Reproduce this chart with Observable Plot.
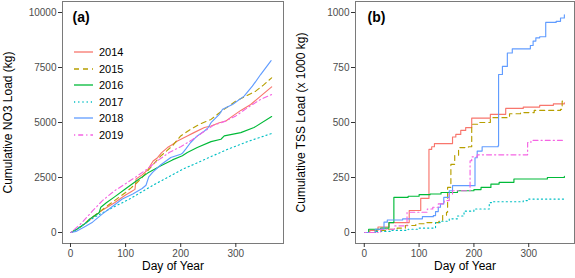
<!DOCTYPE html>
<html><head><meta charset="utf-8">
<script src="https://cdn.jsdelivr.net/npm/d3@7"></script>
<script src="https://cdn.jsdelivr.net/npm/@observablehq/plot@0.6"></script>
<style>
body{margin:0;background:#fff;}
#wrap{position:relative;width:575px;height:278px;font-family:"Liberation Sans",Arial,sans-serif;overflow:hidden;}
#pa{position:absolute;left:0;top:0;}
#pb{position:absolute;left:287px;top:0;}
#legend{position:absolute;left:74px;top:44px;font-size:11px;color:#000;}
#legend .row{height:16.5px;display:flex;align-items:center;}
#legend svg{margin-right:6px;}
</style></head>
<body><div id="wrap"><div id="pa"></div><div id="pb"></div><div id="legend"></div></div>
<script>
const years = ["2014","2015","2016","2017","2018","2019"];
const colors = ["#F8766D","#B79F00","#00BA38","#00BFC4","#619CFF","#F564E3"];
const dashes = [null,"5,4",null,"1.2,3",null,"1.2,3,5,3"];
const xTicks = [0,100,200,300];
const no3Ticks = [0,2500,5000,7500,10000];
const tssTicks = [0,250,500,750,1000];

// Cumulative NO3 load (kg), [day, value]
const no3_2014 = [[1,0],[10,120],[20,300],[30,480],[40,680],[50,870],[60,1050],[70,1200],[80,1350],[90,1530],[100,1700],[110,1850],[117,1960],[119,2430],[130,2620],[140,2850],[150,3250],[158,3400],[165,3620],[176,3860],[185,4000],[194,4160],[212,4390],[224,4540],[243,4770],[255,4840],[270,4990],[282,5070],[294,5290],[309,5550],[327,5820],[345,6200],[365,6620]];
const no3_2015 = [[1,0],[10,130],[20,300],[30,500],[40,700],[50,890],[60,1080],[70,1270],[80,1450],[90,1640],[100,1820],[110,2030],[120,2250],[130,2500],[140,2800],[152,3150],[164,3480],[175,3720],[185,3940],[200,4390],[218,4690],[234,4920],[255,5140],[276,5550],[300,5970],[318,6200],[336,6425],[350,6700],[365,7030]];
const no3_2016 = [[1,0],[10,130],[20,280],[30,470],[35,620],[45,780],[52,900],[55,1150],[65,1350],[80,1620],[100,1990],[120,2350],[140,2700],[164,3030],[185,3300],[203,3485],[212,3635],[230,3860],[255,4130],[273,4240],[279,4390],[309,4540],[333,4770],[365,5270]];
const no3_2017 = [[1,0],[20,300],[43,690],[70,1050],[107,1520],[150,2150],[204,2880],[224,3100],[255,3450],[285,3780],[321,4130],[365,4500]];
const no3_2018 = [[1,0],[10,50],[25,250],[40,470],[58,845],[76,1180],[94,1520],[113,1750],[130,2000],[137,2150],[142,2530],[149,2730],[164,3080],[182,3410],[200,3560],[203,3600],[209,3790],[218,4090],[230,4390],[243,4615],[250,4770],[255,4990],[270,5370],[276,5600],[294,5820],[315,6200],[330,6650],[345,7180],[364,7810]];
const no3_2019 = [[1,0],[20,430],[40,980],[58,1450],[80,1900],[100,2220],[120,2550],[140,2900],[160,3300],[180,3650],[200,3900],[220,4200],[240,4550],[260,4880],[280,5050],[300,5300],[320,5650],[345,6050],[365,6270]];

// Cumulative TSS load (x 1000 kg), [day, value]
const tss_2014 = [[1,0],[10,10],[25,25],[45,45],[82,100],[103,155],[118,378],[123,390],[128,404],[161,434],[167,446],[176,464],[185,477],[196,520],[230,537],[258,564],[290,570],[320,578],[345,585],[365,590]];
const tss_2015 = [[1,0],[20,10],[40,15],[60,20],[75,32],[94,40],[110,45],[136,51],[143,77],[150,92],[152,205],[158,310],[165,350],[172,386],[190,390],[196,492],[210,500],[230,522],[265,540],[285,545],[310,555],[358,560],[361,597],[365,597]];
const tss_2016 = [[1,0],[8,15],[30,20],[45,45],[54,160],[80,165],[100,172],[120,175],[140,182],[170,190],[200,195],[213,205],[231,220],[246,228],[273,243],[334,250],[365,255]];
const tss_2017 = [[1,0],[20,5],[50,10],[80,15],[100,20],[130,45],[140,51],[155,62],[170,75],[182,97],[200,107],[228,136],[232,140],[290,145],[300,152],[365,152]];
const tss_2018 = [[1,0],[20,15],[36,47],[42,57],[70,62],[106,72],[126,77],[130,95],[135,115],[139,130],[145,160],[155,190],[161,213],[200,213],[202,340],[206,370],[215,390],[244,394],[245,718],[252,755],[261,816],[270,835],[303,850],[308,870],[313,885],[320,890],[331,955],[350,960],[358,975],[365,990]];
const tss_2019 = [[1,0],[30,15],[55,30],[78,92],[115,107],[125,115],[135,130],[146,145],[155,175],[161,190],[193,326],[196,344],[206,353],[298,409],[304,419],[365,422]];

const no3Series = [no3_2014,no3_2015,no3_2016,no3_2017,no3_2018,no3_2019];
const tssSeries = [tss_2014,tss_2015,tss_2016,tss_2017,tss_2018,tss_2019];

const font = "Liberation Sans, Arial, sans-serif";

function panel({series, curve, width, marginLeft, marginRight, xDomain, yDomain, yTicks, yLabel, tag, tagDx}) {
  const marks = [];
  series.forEach((s, i) => {
    const opts = {x: d => d[0], y: d => d[1], stroke: colors[i], strokeWidth: 1.15, curve};
    if (dashes[i]) opts.strokeDasharray = dashes[i];
    marks.push(Plot.line(s, opts));
  });
  marks.push(Plot.frame({stroke: "#7a7a7a", strokeWidth: 1}));
  marks.push(Plot.axisX({ticks: xTicks, tickFormat: "d", tickSize: 4, tickPadding: 2, label: null, fontSize: 10, stroke: "#333", fill: "#4d4d4d"}));
  marks.push(Plot.axisY({ticks: yTicks, tickFormat: "d", tickSize: 4, tickPadding: 2, label: null, fontSize: 10, stroke: "#333", fill: "#4d4d4d"}));
  marks.push(Plot.text(["Day of Year"], {frameAnchor: "bottom", dy: 26, fontSize: 12, fill: "black"}));
  marks.push(Plot.text([yLabel], {frameAnchor: "left", dx: -54, rotate: -90, textAnchor: "middle", lineAnchor: "middle", fontSize: 12, fill: "black"}));
  marks.push(Plot.text([tag], {frameAnchor: "top-left", dx: tagDx, dy: 16.5, textAnchor: "start", lineAnchor: "middle", fontSize: 14, fontWeight: "bold", fill: "black"}));
  return Plot.plot({
    width, height: 278,
    marginLeft, marginRight, marginTop: 1, marginBottom: 35,
    x: {domain: xDomain},
    y: {domain: yDomain},
    style: {fontFamily: font, background: "white", overflow: "visible"},
    marks
  });
}

document.getElementById("pa").append(panel({
  series: no3Series, curve: "linear", width: 287, marginLeft: 62, marginRight: 4,
  xDomain: [-14.5, 386.5], yDomain: [-500, 10500], yTicks: no3Ticks,
  yLabel: "Cumulative NO3 Load (kg)", tag: "(a)", tagDx: 10
}));
document.getElementById("pb").append(panel({
  series: tssSeries, curve: "step-after", width: 288, marginLeft: 68, marginRight: 1,
  xDomain: [-16, 383.5], yDomain: [-50, 1050], yTicks: tssTicks,
  yLabel: "Cumulative TSS Load (x 1000 kg)", tag: "(b)", tagDx: 12
}));

// legend
const leg = document.getElementById("legend");
years.forEach((y, i) => {
  const row = document.createElement("div");
  row.className = "row";
  const ns = "http://www.w3.org/2000/svg";
  const svg = document.createElementNS(ns, "svg");
  svg.setAttribute("width", 19); svg.setAttribute("height", 8);
  const ln = document.createElementNS(ns, "line");
  ln.setAttribute("x1", 0); ln.setAttribute("x2", 19);
  ln.setAttribute("y1", 4); ln.setAttribute("y2", 4);
  ln.setAttribute("stroke", colors[i]); ln.setAttribute("stroke-width", 1.3);
  if (dashes[i]) ln.setAttribute("stroke-dasharray", dashes[i]);
  svg.append(ln);
  const t = document.createElement("span");
  t.textContent = y;
  row.append(svg, t);
  leg.append(row);
});
</script></body></html>
